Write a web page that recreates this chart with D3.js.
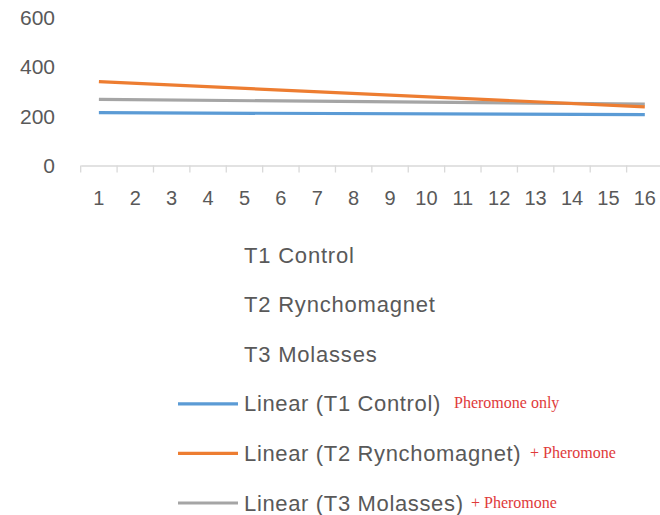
<!DOCTYPE html>
<html>
<head>
<meta charset="utf-8">
<script src="https://cdn.jsdelivr.net/npm/d3@7"></script>
<style>
  html, body { margin: 0; padding: 0; background: #fff; }
  svg { display: block; }
</style>
</head>
<body>
<div id="chart"></div>
<script>
// ---- data ----
const categories = ["1","2","3","4","5","6","7","8","9","10","11","12","13","14","15","16"];
const yTicks = [0, 200, 400, 600];
// Linear trendlines: value at category 1 and at category 16
const trendCats = ["1", "16"];
const t1Trend = [214, 206];
const t2Trend = [340, 238];
const t3Trend = [268, 249];
const seriesNames = ["T1 Control", "T2 Rynchomagnet", "T3 Molasses"];
const trendNames = ["Linear (T1 Control)", "Linear (T2 Rynchomagnet)", "Linear (T3 Molasses)"];
const notes = ["Pheromone only", "+ Pheromone", "+ Pheromone"];
const colors = ["#5b9bd5", "#ed7d31", "#a5a5a5"];

const W = 660, H = 515;
const svg = d3.select("#chart").append("svg").attr("width", W).attr("height", H);

const x = d3.scaleBand().domain(categories).range([80.7, 663]).padding(0);
const y = d3.scaleLinear().domain([0, 600]).range([165.5, 17.5]);

const textColor = "#595959";
const font = "'Liberation Sans', Arial, sans-serif";

// y axis labels
svg.append("g").selectAll("text").data(yTicks).join("text")
  .attr("x", 55).attr("y", d => y(d))
  .attr("text-anchor", "end").attr("dominant-baseline", "central")
  .attr("font-family", font).attr("font-size", 21).attr("fill", textColor)
  .text(d => d);

// x axis
const xAxis = svg.append("g").attr("transform", `translate(0,${y(0)})`)
  .call(d3.axisBottom(x).tickSize(0).tickFormat(d => d));
xAxis.select(".domain").attr("stroke", "#d9d9d9").attr("stroke-width", 1.3);
xAxis.selectAll(".tick text").attr("font-family", font).attr("font-size", 20)
  .attr("fill", textColor).attr("dy", null).attr("y", 32).attr("dominant-baseline", "central");
// tick marks at band boundaries
svg.append("g").selectAll("line").data(categories).join("line")
  .attr("x1", d => x(d)).attr("x2", d => x(d))
  .attr("y1", y(0)).attr("y2", y(0) + 7)
  .attr("stroke", "#d9d9d9").attr("stroke-width", 1.3);

// trendlines
const trends = [t1Trend, t2Trend, t3Trend];
const line = d3.line().x(d => x(d.c) + x.bandwidth() / 2).y(d => y(d.v));
[0, 2, 1].forEach(i => {
  const pts = trendCats.map((c, k) => ({ c, v: trends[i][k] }));
  svg.append("path").datum(pts).attr("d", line)
    .attr("fill", "none").attr("stroke", colors[i]).attr("stroke-width", 3.2)
    .attr("stroke-linecap", "butt");
});

// legend
const legendX = 244, legendY0 = 255, legendStep = 49.6;
const lg = svg.append("g");
seriesNames.forEach((n, i) => {
  lg.append("text").attr("x", legendX).attr("y", legendY0 + i * legendStep)
    .attr("dominant-baseline", "central")
    .attr("font-family", font).attr("font-size", 22).attr("letter-spacing", 0.8)
    .attr("fill", textColor).text(n);
});
const noteX = [454, 530, 471];
trendNames.forEach((n, i) => {
  const yy = legendY0 + (i + 3) * legendStep;
  lg.append("line").attr("x1", 178).attr("x2", 238).attr("y1", yy).attr("y2", yy)
    .attr("stroke", colors[i]).attr("stroke-width", 3.2);
  lg.append("text").attr("x", legendX).attr("y", yy)
    .attr("dominant-baseline", "central")
    .attr("font-family", font).attr("font-size", 22).attr("letter-spacing", 0.65)
    .attr("fill", textColor).text(n);
  lg.append("text").attr("x", noteX[i]).attr("y", yy - 1)
    .attr("dominant-baseline", "central")
    .attr("font-family", "'Liberation Serif', 'Times New Roman', serif")
    .attr("font-size", 16).attr("fill", "#e03a3a").text(notes[i]);
});
</script>
</body>
</html>
